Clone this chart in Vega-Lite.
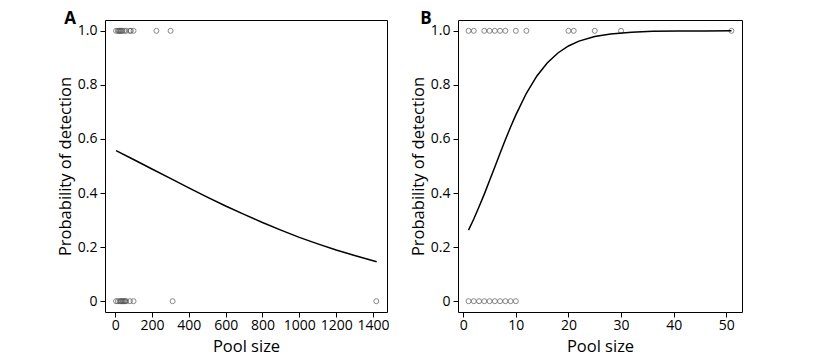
{
  "$schema": "https://vega.github.io/schema/vega-lite/v6.json",
  "padding": {"left": 56, "top": 9, "right": 0, "bottom": 0},
  "spacing": 19,
  "config": {
    "font": "Open Sans",
    "view": {"stroke": "black", "strokeWidth": 1},
    "axis": {"domain": false, "grid": false, "tickColor": "black", "tickSize": 5, "labelColor": "black", "labelFontSize": 14, "titleFontSize": 16.5, "titleFontWeight": "normal", "titleColor": "black", "labelPadding": 3},
    "axisX": {"labelPadding": 1, "titlePadding": 6},
    "title": {"fontSize": 17, "fontWeight": "bold", "anchor": "start", "frame": "bounds", "color": "black"}
  },
  "datasets": {
    "a_pts": [
      {"pool": 5, "p": 1}, {"pool": 15, "p": 1}, {"pool": 20, "p": 1}, {"pool": 25, "p": 1}, {"pool": 30, "p": 1}, {"pool": 35, "p": 1}, {"pool": 40, "p": 1}, {"pool": 50, "p": 1}, {"pool": 60, "p": 1}, {"pool": 80, "p": 1}, {"pool": 85, "p": 1}, {"pool": 100, "p": 1}, {"pool": 224, "p": 1}, {"pool": 301, "p": 1},
      {"pool": 5, "p": 0}, {"pool": 15, "p": 0}, {"pool": 25, "p": 0}, {"pool": 30, "p": 0}, {"pool": 35, "p": 0}, {"pool": 40, "p": 0}, {"pool": 45, "p": 0}, {"pool": 50, "p": 0}, {"pool": 55, "p": 0}, {"pool": 60, "p": 0}, {"pool": 80, "p": 0}, {"pool": 100, "p": 0}, {"pool": 312, "p": 0}, {"pool": 1418, "p": 0}
    ],
    "a_fit": [
      {"pool": 5, "p": 0.557}, {"pool": 100, "p": 0.524}, {"pool": 200, "p": 0.489}, {"pool": 300, "p": 0.454}, {"pool": 400, "p": 0.419}, {"pool": 500, "p": 0.385}, {"pool": 600, "p": 0.352}, {"pool": 700, "p": 0.321}, {"pool": 800, "p": 0.291}, {"pool": 900, "p": 0.263}, {"pool": 1000, "p": 0.236}, {"pool": 1100, "p": 0.212}, {"pool": 1200, "p": 0.189}, {"pool": 1300, "p": 0.169}, {"pool": 1420, "p": 0.146}
    ],
    "b_pts": [
      {"pool": 1, "p": 1}, {"pool": 2, "p": 1}, {"pool": 4, "p": 1}, {"pool": 5, "p": 1}, {"pool": 6, "p": 1}, {"pool": 7, "p": 1}, {"pool": 8, "p": 1}, {"pool": 10, "p": 1}, {"pool": 12, "p": 1}, {"pool": 20, "p": 1}, {"pool": 21, "p": 1}, {"pool": 25, "p": 1}, {"pool": 30, "p": 1}, {"pool": 51, "p": 1},
      {"pool": 1, "p": 0}, {"pool": 2, "p": 0}, {"pool": 3, "p": 0}, {"pool": 4, "p": 0}, {"pool": 5, "p": 0}, {"pool": 6, "p": 0}, {"pool": 7, "p": 0}, {"pool": 8, "p": 0}, {"pool": 9, "p": 0}, {"pool": 10, "p": 0}
    ],
    "b_fit": [
      {"pool": 1, "p": 0.263}, {"pool": 2, "p": 0.304}, {"pool": 3, "p": 0.349}, {"pool": 4, "p": 0.396}, {"pool": 5, "p": 0.446}, {"pool": 6, "p": 0.496}, {"pool": 7, "p": 0.547}, {"pool": 8, "p": 0.597}, {"pool": 9, "p": 0.644}, {"pool": 10, "p": 0.689}, {"pool": 12, "p": 0.769}, {"pool": 14, "p": 0.833}, {"pool": 16, "p": 0.882}, {"pool": 18, "p": 0.918}, {"pool": 20, "p": 0.944}, {"pool": 22, "p": 0.962}, {"pool": 25, "p": 0.979}, {"pool": 28, "p": 0.988}, {"pool": 32, "p": 0.995}, {"pool": 36, "p": 0.998}, {"pool": 41, "p": 0.999}, {"pool": 46, "p": 0.9997}, {"pool": 51, "p": 1.0}
    ]
  },
  "hconcat": [
    {
      "title": {"text": "A", "dy": 12, "dx": 7},
      "width": 282,
      "height": 292,
      "encoding": {
        "x": {"field": "pool", "type": "quantitative", "scale": {"domain": [-55, 1476], "nice": false, "zero": false}, "axis": {"values": [0, 200, 400, 600, 800, 1000, 1200, 1400], "format": "d", "title": "Pool size"}},
        "y": {"field": "p", "type": "quantitative", "scale": {"domain": [-0.04, 1.04], "nice": false, "zero": false}, "axis": {"values": [0, 0.2, 0.4, 0.6, 0.8, 1.0], "labelExpr": "datum.value == 0 ? '0' : format(datum.value, '.1f')", "title": "Probability of detection"}}
      },
      "layer": [
        {"data": {"name": "a_pts"}, "mark": {"type": "point", "shape": "circle", "filled": false, "color": "#555555", "size": 25, "strokeWidth": 1}},
        {"data": {"name": "a_fit"}, "mark": {"type": "line", "color": "black", "strokeWidth": 1.5}}
      ]
    },
    {
      "title": {"text": "B", "dy": 12, "dx": 10},
      "width": 284,
      "height": 292,
      "encoding": {
        "x": {"field": "pool", "type": "quantitative", "scale": {"domain": [-1, 53], "nice": false, "zero": false}, "axis": {"values": [0, 10, 20, 30, 40, 50], "format": "d", "title": "Pool size"}},
        "y": {"field": "p", "type": "quantitative", "scale": {"domain": [-0.04, 1.04], "nice": false, "zero": false}, "axis": {"values": [0, 0.2, 0.4, 0.6, 0.8, 1.0], "labelExpr": "datum.value == 0 ? '0' : format(datum.value, '.1f')", "title": "Probability of detection"}}
      },
      "layer": [
        {"data": {"name": "b_pts"}, "mark": {"type": "point", "shape": "circle", "filled": false, "color": "#555555", "size": 25, "strokeWidth": 1}},
        {"data": {"name": "b_fit"}, "mark": {"type": "line", "color": "black", "strokeWidth": 1.5}}
      ]
    }
  ]
}
